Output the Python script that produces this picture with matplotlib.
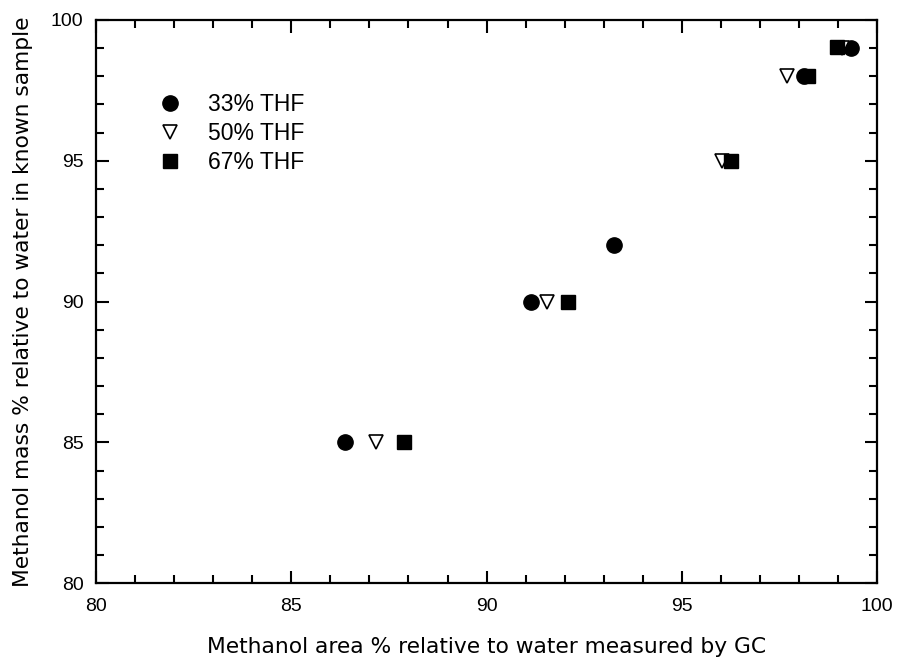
import matplotlib
matplotlib.use("Agg")
import matplotlib.pyplot as plt
from matplotlib.ticker import MultipleLocator

# Data (x: GC area %, y: known mass %)
thf33_x = [86.38, 91.13, 93.26, 98.12, 99.33]
thf33_y = [85, 90, 92, 98, 99]
thf50_x = [87.18, 91.55, 96.03, 97.69, 99.10]
thf50_y = [85, 90, 95, 98, 99]
thf67_x = [87.88, 92.09, 96.26, 98.22, 98.97]
thf67_y = [85, 90, 95, 98, 99.05]
labels = ["33% THF", "50% THF", "67% THF"]

fig = plt.figure(figsize=(8.97, 6.62), dpi=100)
ax = fig.add_axes([0.107, 0.119, 0.871, 0.851])

ax.plot(thf33_x, thf33_y, 'o', color='black', ms=11, ls='none', label=labels[0])
ax.plot(thf50_x, thf50_y, 'v', mfc='white', mec='black', mew=1.2, ms=10, ls='none', label=labels[1])
ax.plot(thf67_x, thf67_y, 's', color='black', ms=9.5, ls='none', label=labels[2])

ax.set_xlim(80, 100)
ax.set_ylim(80, 100)
ax.xaxis.set_major_locator(MultipleLocator(5))
ax.xaxis.set_minor_locator(MultipleLocator(1))
ax.yaxis.set_major_locator(MultipleLocator(5))
ax.yaxis.set_minor_locator(MultipleLocator(1))
ax.tick_params(which='both', direction='in', top=True, right=True, width=1.5, labelsize=14)
ax.tick_params(axis='x', which='both', pad=10.5)
ax.tick_params(axis='y', which='both', pad=9)
ax.tick_params(which='major', length=9)
ax.tick_params(which='minor', length=6)
for lab in ax.get_xticklabels() + ax.get_yticklabels():
    lab.set_family('Liberation Sans')
for s in ax.spines.values():
    s.set_linewidth(1.6)

ax.set_xlabel("Methanol area % relative to water measured by GC", fontsize=15.7, family='DejaVu Sans', labelpad=16)
ax.set_ylabel("Methanol mass % relative to water in known sample", fontsize=15.7, family='DejaVu Sans', labelpad=13)

leg = ax.legend(loc='upper left', bbox_to_anchor=(0.054, 0.886), frameon=False,
                prop={'family': 'Liberation Sans', 'size': 16.5}, handletextpad=0.65,
                labelspacing=0.25, borderaxespad=0)

fig.savefig("out.png", dpi=100)
